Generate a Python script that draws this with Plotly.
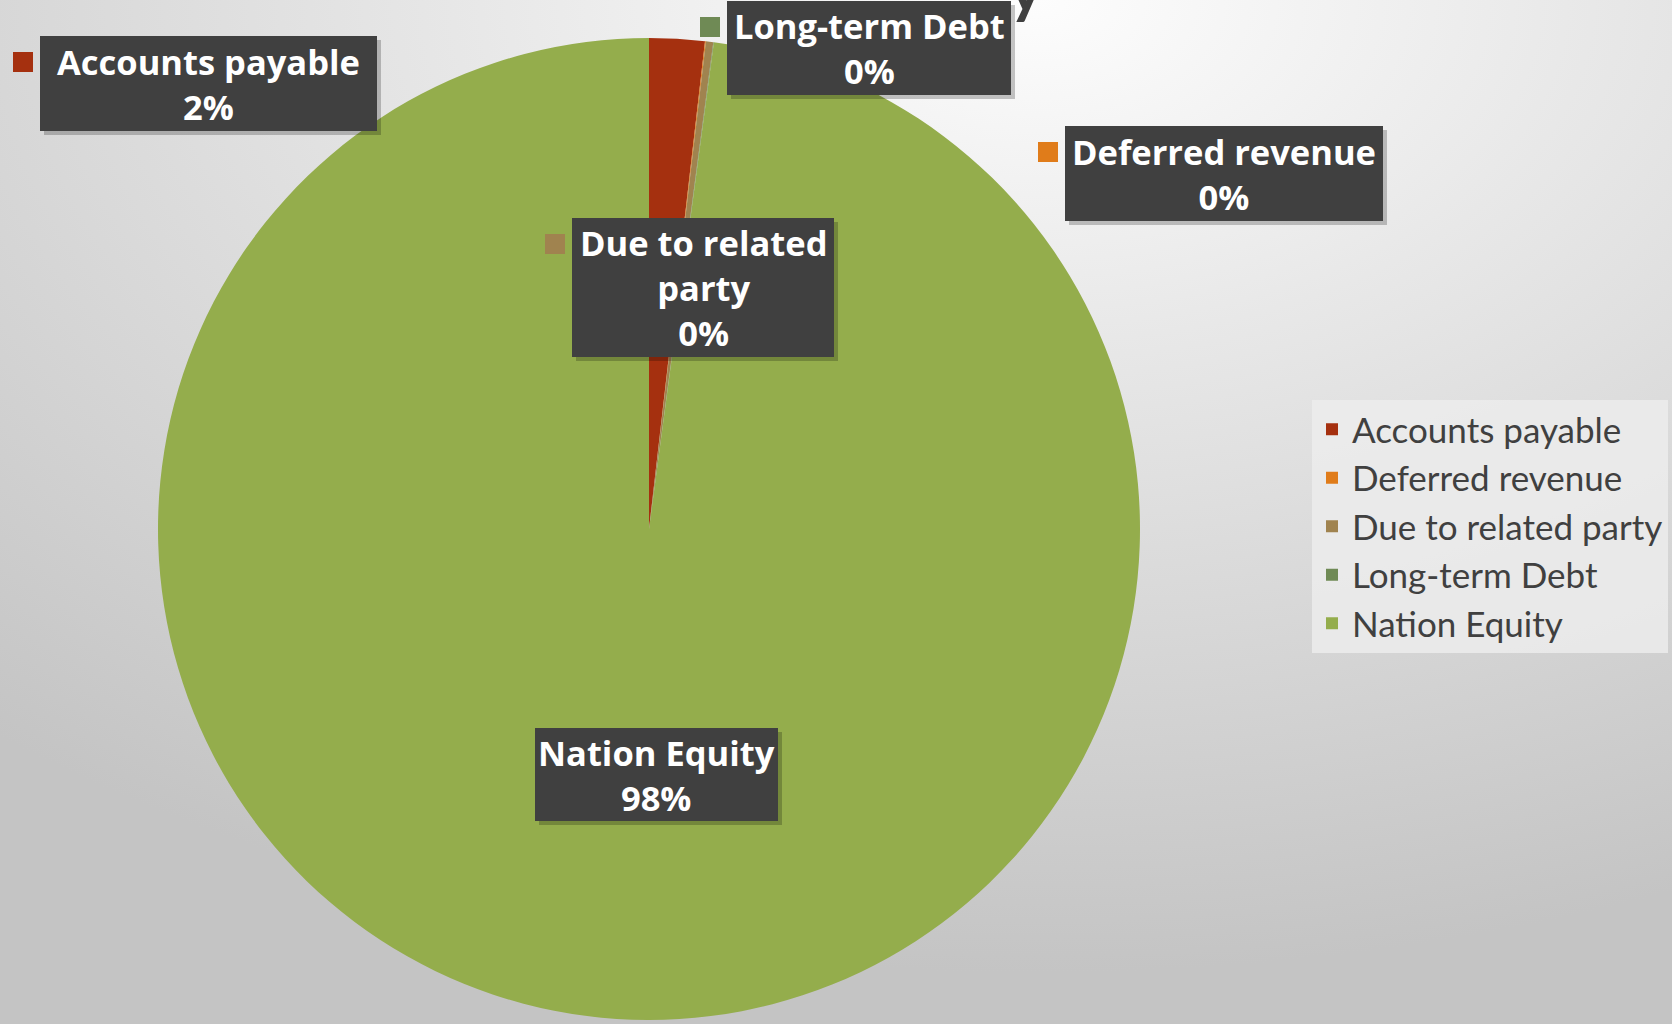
import base64
import plotly.graph_objects as go

# ---- data ----
categories = ["Accounts payable", "Deferred revenue", "Due to related party",
              "Long-term Debt", "Nation Equity"]
values = [1.82, 0.03, 0.24, 0.02, 97.89]
colors = ["#A5300F", "#E07C1A", "#A0834F", "#6F8A55", "#94AD4C"]

W, H = 1672, 1024


def px(x):
    return x / W


def py(y):
    return 1 - y / H


# background radial gradient as an inline svg image
svg = f'''<svg xmlns="http://www.w3.org/2000/svg" width="{W}" height="{H}">
<defs><radialGradient id="g" cx="0.62" cy="0.0" r="0.95">
<stop offset="0" stop-color="#fdfdfd"/>
<stop offset="0.35" stop-color="#e8e8e8"/>
<stop offset="1" stop-color="#c4c4c4"/>
</radialGradient></defs>
<rect width="100%" height="100%" fill="url(#g)"/></svg>'''
bg_uri = "data:image/svg+xml;base64," + base64.b64encode(svg.encode()).decode()

cx, cy, r = 649, 529, 491

fig = go.Figure()
fig.add_trace(go.Pie(
    labels=categories, values=values, sort=False, direction="clockwise",
    rotation=0, marker=dict(colors=colors, line=dict(width=0)),
    textinfo="none", hoverinfo="label+percent",
    domain=dict(x=[px(cx - r), px(cx + r)], y=[py(cy + r), py(cy - r)]),
))

total = sum(values)
# label box layout: (x0, y0, x1, y1) in pixels, text lines
boxes = {
    "Accounts payable": (40, 36, 377, 131, ["Accounts payable"]),
    "Long-term Debt": (727, 1, 1011, 95, ["Long-term Debt"]),
    "Deferred revenue": (1065, 126, 1383, 221, ["Deferred revenue"]),
    "Due to related party": (572, 218, 834, 357, ["Due to related", "party"]),
    "Nation Equity": (535, 728, 778, 821, ["Nation Equity"]),
}

shapes = []
annotations = []
for cat, col, val in zip(categories, colors, values):
    x0, y0, x1, y1, lines = boxes[cat]
    pct = f"{val / total * 100:.0f}%"
    # shadow
    shapes.append(dict(type="rect", xref="paper", yref="paper",
                       x0=px(x0 + 4), x1=px(x1 + 4), y0=py(y1 + 4), y1=py(y0 + 4),
                       fillcolor="rgba(0,0,0,0.22)", line=dict(width=0)))
    shapes.append(dict(type="rect", xref="paper", yref="paper",
                       x0=px(x0), x1=px(x1), y0=py(y1), y1=py(y0),
                       fillcolor="#404040", line=dict(width=0)))
    # key square
    shapes.append(dict(type="rect", xref="paper", yref="paper",
                       x0=px(x0 - 27), x1=px(x0 - 7), y0=py(y0 + 36), y1=py(y0 + 16),
                       fillcolor=col, line=dict(width=0)))
    annotations.append(dict(
        xref="paper", yref="paper", x=px((x0 + x1) / 2), y=py((y0 + y1) / 2),
        xanchor="center", yanchor="middle", showarrow=False,
        text="<b>" + "<br>".join(lines + [pct]) + "</b>",
        font=dict(family="Open Sans, sans-serif", size=34.5, color="white"),
        align="center",
    ))

# descender of a cut-off title glyph at top edge
annotations.append(dict(xref="paper", yref="paper", x=px(1026), y=py(27),
                        xanchor="center", yanchor="bottom", showarrow=False,
                        text="<b>y</b>", borderpad=0,
                        font=dict(family="Lato, sans-serif", size=64, color="#404040")))

fig.update_layout(
    width=W, height=H,
    margin=dict(l=0, r=0, t=0, b=0, autoexpand=False),
    paper_bgcolor="#d4d4d4", plot_bgcolor="rgba(0,0,0,0)",
    images=[dict(source=bg_uri, xref="paper", yref="paper", x=0, y=1,
                 sizex=1, sizey=1, sizing="stretch", layer="below",
                 xanchor="left", yanchor="top")],
    showlegend=True,
    legend=dict(x=px(1312), y=py(400), xanchor="left", yanchor="top",
                bgcolor="rgba(236,236,236,0.85)",
                font=dict(family="Lato, sans-serif", size=35, color="#404040"),
                traceorder="normal", itemwidth=30),
    shapes=shapes,
    annotations=annotations,
)

fig.write_html("out.html", config={"displayModeBar": False},
               post_script="document.body.style.margin='0';"
                           "document.documentElement.style.overflow='hidden';")
